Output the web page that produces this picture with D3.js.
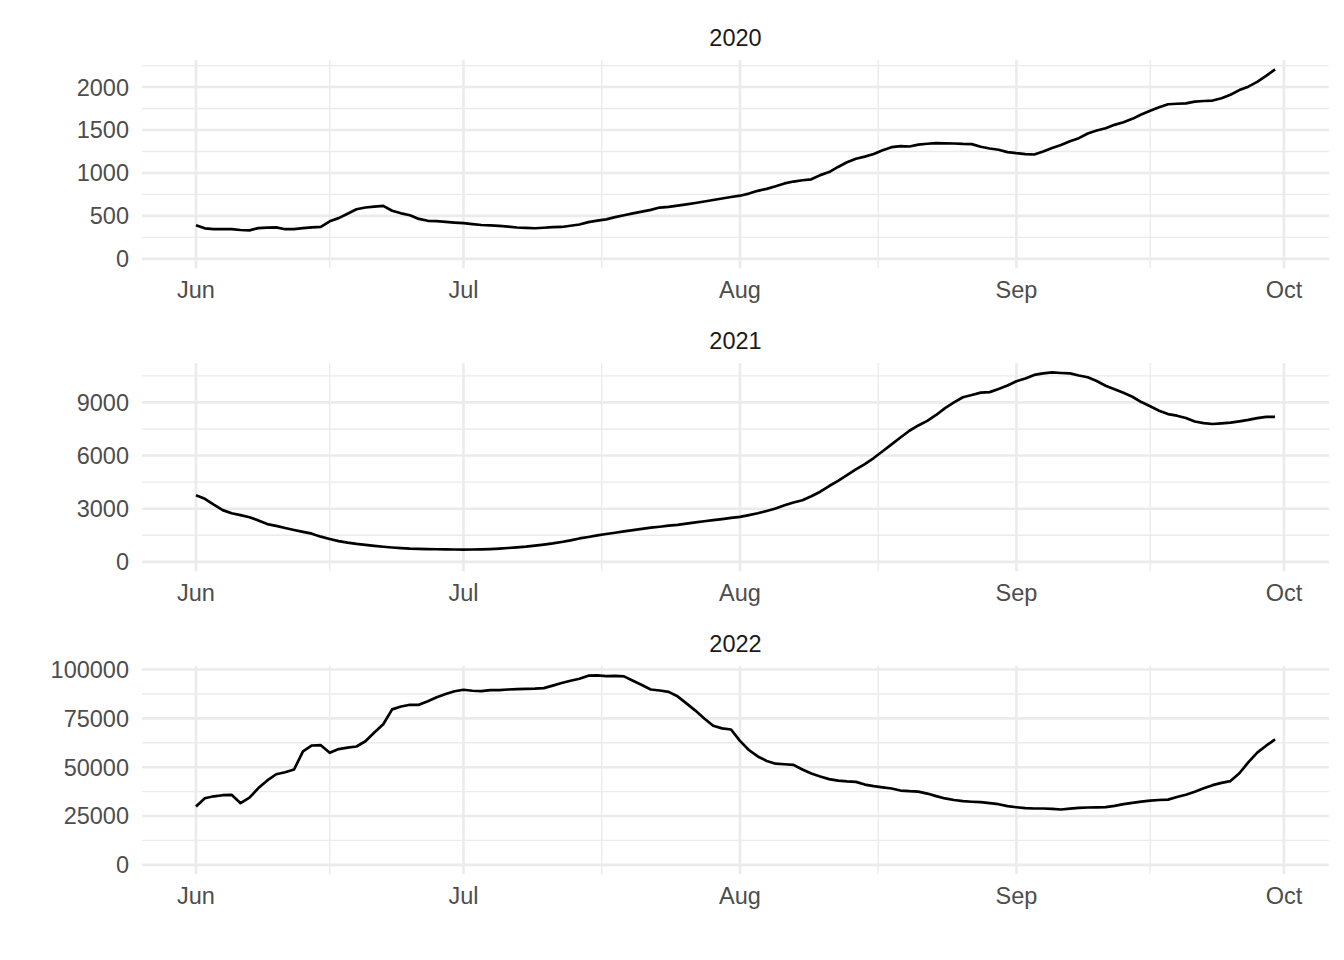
<!DOCTYPE html>
<html><head><meta charset="utf-8">
<script src="https://cdn.jsdelivr.net/npm/d3@7"></script>
<style>body{margin:0;background:#fff} svg{display:block}</style>
</head><body><svg id="c" width="1344" height="960"></svg>
<script>
// ---- data ----
const years = ["2020", "2021", "2022"];
const firstDay = "2000-06-01";   // month/day axis shared by all panels (Jun 1 .. Sep 30)
const lastDay = "2000-09-30";
const monthTicks = ["2000-06-01", "2000-07-01", "2000-08-01", "2000-09-01", "2000-10-01"];

const values2020 = [390,355,345,345,345,336,332,358,364,367,345,347,357,367,371,437,474,525,577,598,
  608,617,560,530,508,465,443,438,430,422,415,404,394,390,383,374,365,360,356,362,
  370,371,385,400,428,444,460,485,508,530,550,570,597,605,620,634,650,668,685,703,
  720,735,760,792,815,845,878,900,915,926,975,1010,1070,1125,1165,1190,1220,1265,1300,1313,
  1308,1330,1340,1348,1345,1343,1338,1336,1305,1285,1270,1243,1230,1220,1215,1250,1290,1325,1370,1405,
  1460,1495,1520,1560,1590,1630,1680,1725,1765,1800,1806,1810,1830,1838,1843,1870,1910,1965,2005,2060,
  2130,2205];
const values2021 = [3760,3560,3230,2920,2740,2640,2520,2340,2130,2030,1910,1800,1690,1590,1420,1290,1170,1080,1010,955,
  900,850,810,775,745,730,720,710,700,695,690,695,705,720,745,780,820,860,920,975,
  1040,1120,1210,1320,1400,1490,1570,1640,1720,1790,1860,1930,1980,2040,2090,2160,2230,2290,2350,2410,
  2480,2540,2640,2740,2870,3010,3190,3350,3480,3700,3960,4280,4570,4900,5220,5520,5860,6240,6630,7020,
  7400,7700,7960,8290,8680,9000,9290,9420,9550,9580,9760,9950,10190,10350,10550,10640,10690,10660,10640,10520,
  10420,10210,9940,9740,9540,9320,9020,8780,8530,8340,8250,8120,7920,7830,7780,7820,7860,7930,8010,8110,
  8180,8180];
const values2022 = [29870,34120,35100,35650,35860,31560,34400,39300,43200,46400,47440,48820,58100,61120,61270,57380,59300,60000,60600,63300,
  67800,72000,79600,81100,81970,81970,83800,85800,87500,88900,89650,89150,88950,89450,89450,89800,89960,90100,90200,90500,
  91800,93100,94300,95300,96850,96980,96620,96820,96500,94300,92100,89800,89290,88600,86300,82700,79000,74950,71200,69900,
  69300,63500,58800,55500,53200,51800,51500,51200,48800,46800,45200,43900,43100,42700,42500,41100,40300,39700,39100,38050,
  37700,37500,36500,35200,34000,33200,32600,32300,32100,31600,31050,30100,29500,29000,28850,28850,28700,28330,28800,29200,
  29350,29450,29550,30200,31100,31700,32400,32900,33200,33400,34700,35900,37400,39200,40800,42000,42900,46900,52500,57500,
  61000,64200];
const yTicks2020 = [0, 500, 1000, 1500, 2000];
const yTicks2021 = [0, 3000, 6000, 9000];
const yTicks2022 = [0, 25000, 50000, 75000, 100000];

const seriesValues = [values2020, values2021, values2022];
const seriesTicks = [yTicks2020, yTicks2021, yTicks2022];

// ---- layout ----
const W = 1344, left = 142, right = 1329;
const panelTops = [60, 363, 666], panelH = 208.3;
const font = "'Liberation Sans', Arial, Helvetica, sans-serif";
const svg = d3.select("#c");
svg.append("rect").attr("width", W).attr("height", 960).attr("fill", "#fff");

const parse = d3.utcParse("%Y-%m-%d");
const days = d3.utcDay.range(parse(firstDay), d3.utcDay.offset(parse(lastDay), 1));
const span = days[days.length - 1] - days[0];
const x = d3.scaleUtc()
  .domain([new Date(+days[0] - span * 0.05), new Date(+days[days.length - 1] + span * 0.05)])
  .range([left, right]);
const mTicks = monthTicks.map(parse);
const mMinor = d3.pairs(mTicks).map(([a, b]) => new Date((+a + +b) / 2));

years.forEach((yr, i) => {
  const vals = seriesValues[i], ticks = seriesTicks[i];
  const top = panelTops[i], bottom = top + panelH;
  const mx = d3.max(vals), mn = Math.min(0, d3.min(vals));
  const r = mx - mn;
  const y = d3.scaleLinear().domain([mn - r * 0.05, mx + r * 0.05]).range([bottom, top]);
  const g = svg.append("g");
  const step = ticks[1] - ticks[0];
  const minor = ticks.map(t => t + step / 2).filter(v => v >= y.domain()[0] && v <= y.domain()[1]);

  // minor grid
  g.selectAll(".hmin").data(minor).join("line")
    .attr("x1", left).attr("x2", right).attr("y1", d => y(d)).attr("y2", d => y(d))
    .attr("stroke", "#EBEBEB").attr("stroke-width", 1.4);
  g.selectAll(".vmin").data(mMinor).join("line")
    .attr("x1", d => x(d)).attr("x2", d => x(d)).attr("y1", top).attr("y2", bottom)
    .attr("stroke", "#EBEBEB").attr("stroke-width", 1.4);
  // major grid
  g.selectAll(".hmaj").data(ticks).join("line")
    .attr("x1", left).attr("x2", right).attr("y1", d => y(d)).attr("y2", d => y(d))
    .attr("stroke", "#EBEBEB").attr("stroke-width", 2.6);
  g.selectAll(".vmaj").data(mTicks).join("line")
    .attr("x1", d => x(d)).attr("x2", d => x(d)).attr("y1", top).attr("y2", bottom)
    .attr("stroke", "#EBEBEB").attr("stroke-width", 2.6);

  // line
  const line = d3.line().x((d, k) => x(days[k])).y(d => y(d));
  g.append("path").datum(vals).attr("d", line)
    .attr("fill", "none").attr("stroke", "#000").attr("stroke-width", 2.7)
    .attr("stroke-linejoin", "round").attr("stroke-linecap", "butt");

  // y labels
  g.selectAll(".yl").data(ticks).join("text")
    .attr("x", 129).attr("y", d => y(d)).attr("dy", "0.36em")
    .attr("text-anchor", "end").attr("font-family", font).attr("font-size", 23.5)
    .attr("fill", "#4D4D4D").text(d => d);
  // x labels
  g.selectAll(".xl").data(mTicks).join("text")
    .attr("x", d => x(d)).attr("y", bottom + 30)
    .attr("text-anchor", "middle").attr("font-family", font).attr("font-size", 23.5)
    .attr("fill", "#4D4D4D").text(d => d3.utcFormat("%b")(d));
  // strip
  g.append("text").attr("x", (left + right) / 2).attr("y", top - 14)
    .attr("text-anchor", "middle").attr("font-family", font).attr("font-size", 23.5)
    .attr("fill", "#1A1A1A").text(yr);
});
</script></body></html>
